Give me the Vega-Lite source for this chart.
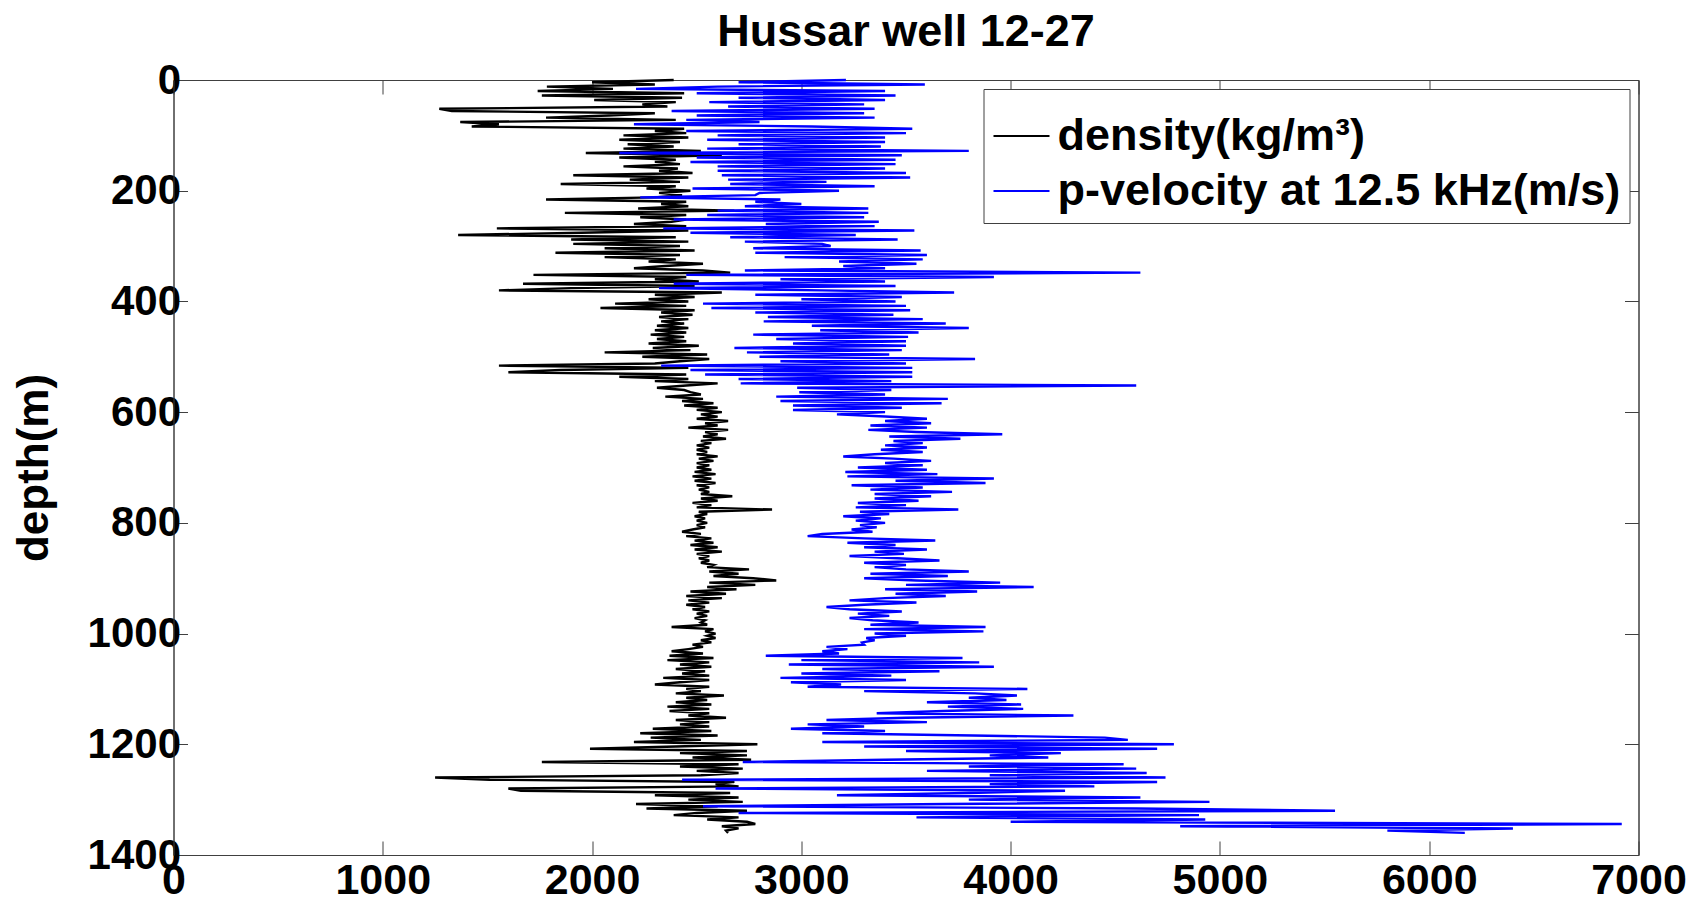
{
"$schema": "https://vega.github.io/schema/vega-lite/v6.json",
"width": 1465, "height": 775,
"autosize": {"type": "none"},
"padding": {"left": 173.5, "top": 80, "right": 60.5, "bottom": 52},
"background": "white",
"config": {"view": {"stroke": "#404040", "strokeWidth": 1}, "font": "Liberation Sans"},
"title": {"text": "Hussar well 12-27", "fontSize": 45, "fontWeight": "bold", "font": "Liberation Sans", "color": "black", "anchor": "middle", "frame": "group", "baseline": "alphabetic", "offset": -32},
"data": {"values": [
{"z":0,"r":2390,"v":3213},{"z":4,"r":2000,"v":2700},{"z":8,"r":2300,"v":3590},{"z":12,"r":1784,"v":2600},{"z":16,"r":2100,"v":2210},{"z":20,"r":1740,"v":3400},{"z":24,"r":2440,"v":2500},{"z":28,"r":1760,"v":3450},{"z":32,"r":2430,"v":2700},{"z":36,"r":2010,"v":3400},{"z":40,"r":2400,"v":2560},{"z":44,"r":2240,"v":3300},{"z":48,"r":2360,"v":2650},{"z":52,"r":1270,"v":3350},{"z":56,"r":1330,"v":2380},{"z":60,"r":2300,"v":3300},{"z":64,"r":2080,"v":2500},{"z":68,"r":1780,"v":3350},{"z":72,"r":2400,"v":2450},{"z":76,"r":1370,"v":2800},{"z":80,"r":1555,"v":2200},{"z":84,"r":1425,"v":3050},{"z":88,"r":2440,"v":3530},{"z":92,"r":2300,"v":2450},{"z":96,"r":2450,"v":3500},
{"z":100,"r":2150,"v":2600},{"z":104,"r":2460,"v":3400},{"z":108,"r":2130,"v":2550},{"z":112,"r":2420,"v":3400},{"z":116,"r":2170,"v":2700},{"z":120,"r":2390,"v":3380},{"z":124,"r":2150,"v":2550},{"z":128,"r":2520,"v":3800},{"z":132,"r":1970,"v":2130},{"z":136,"r":2620,"v":3480},{"z":140,"r":2130,"v":2500},{"z":144,"r":2400,"v":3450},{"z":148,"r":2300,"v":2470},{"z":152,"r":2420,"v":3450},{"z":156,"r":2150,"v":2600},{"z":160,"r":2410,"v":3400},{"z":164,"r":2320,"v":2600},{"z":168,"r":2480,"v":3500},{"z":172,"r":1910,"v":2620},{"z":176,"r":2460,"v":3520},{"z":180,"r":2180,"v":2650},{"z":184,"r":2420,"v":3120},{"z":188,"r":1850,"v":2660},{"z":192,"r":2400,"v":3350},{"z":196,"r":2260,"v":2480},
{"z":200,"r":2470,"v":3180},{"z":204,"r":2320,"v":2800},{"z":208,"r":2430,"v":2780},{"z":212,"r":2300,"v":2230},{"z":216,"r":1780,"v":2900},{"z":220,"r":2450,"v":2780},{"z":224,"r":2330,"v":3000},{"z":228,"r":2460,"v":2730},{"z":232,"r":2220,"v":3320},{"z":236,"r":2680,"v":2600},{"z":240,"r":1870,"v":3320},{"z":244,"r":2450,"v":2550},{"z":248,"r":2230,"v":3300},{"z":252,"r":2450,"v":2390},{"z":256,"r":2380,"v":3370},{"z":260,"r":2200,"v":2830},{"z":264,"r":2450,"v":3350},{"z":268,"r":1545,"v":2340},{"z":272,"r":2460,"v":3540},{"z":276,"r":1950,"v":2470},{"z":280,"r":1360,"v":3260},{"z":284,"r":2400,"v":2660},{"z":288,"r":1900,"v":3460},{"z":292,"r":2460,"v":2730},{"z":296,"r":1910,"v":3100},
{"z":300,"r":2420,"v":3140},{"z":304,"r":2060,"v":2770},{"z":308,"r":2490,"v":3570},{"z":312,"r":1825,"v":2780},{"z":316,"r":2420,"v":3600},{"z":320,"r":2060,"v":2920},{"z":324,"r":2400,"v":3580},{"z":328,"r":2270,"v":3180},{"z":332,"r":2530,"v":3550},{"z":336,"r":2350,"v":3200},{"z":340,"r":2200,"v":3400},{"z":344,"r":2530,"v":2730},{"z":348,"r":2660,"v":4620},{"z":352,"r":1720,"v":2450},{"z":356,"r":2450,"v":3920},{"z":360,"r":2300,"v":2900},{"z":364,"r":2510,"v":3400},{"z":368,"r":1670,"v":2390},{"z":372,"r":2490,"v":3450},{"z":376,"r":1900,"v":2320},{"z":380,"r":1555,"v":3100},{"z":384,"r":2620,"v":3730},{"z":388,"r":2300,"v":2780},{"z":392,"r":2490,"v":3480},{"z":396,"r":2270,"v":3000},
{"z":400,"r":2460,"v":3450},{"z":404,"r":2110,"v":2530},{"z":408,"r":2450,"v":3500},{"z":412,"r":2040,"v":2570},{"z":416,"r":2490,"v":3520},{"z":420,"r":2330,"v":2780},{"z":424,"r":2480,"v":3440},{"z":428,"r":2320,"v":2840},{"z":432,"r":2460,"v":3580},{"z":436,"r":2330,"v":2820},{"z":440,"r":2440,"v":3690},{"z":444,"r":2310,"v":3050},{"z":448,"r":2460,"v":3800},{"z":452,"r":2300,"v":3090},{"z":456,"r":2450,"v":3560},{"z":460,"r":2280,"v":2770},{"z":464,"r":2440,"v":3510},{"z":468,"r":2310,"v":2880},{"z":472,"r":2450,"v":3500},{"z":476,"r":2270,"v":2960},{"z":480,"r":2510,"v":3500},{"z":484,"r":2290,"v":2680},{"z":488,"r":2470,"v":3480},{"z":492,"r":2060,"v":2740},{"z":496,"r":2550,"v":3420},
{"z":500,"r":2240,"v":2800},{"z":504,"r":2560,"v":3830},{"z":508,"r":2420,"v":2900},{"z":512,"r":2300,"v":3500},{"z":516,"r":1555,"v":2330},{"z":520,"r":2460,"v":3530},{"z":524,"r":1850,"v":2470},{"z":528,"r":1600,"v":3530},{"z":532,"r":2450,"v":2540},{"z":536,"r":2130,"v":3530},{"z":540,"r":2460,"v":2700},{"z":544,"r":2300,"v":3430},{"z":548,"r":2600,"v":2710},{"z":552,"r":2450,"v":4600},{"z":556,"r":2310,"v":2980},{"z":560,"r":2440,"v":3430},{"z":564,"r":2470,"v":2990},{"z":568,"r":2520,"v":3400},{"z":572,"r":2350,"v":2880},{"z":576,"r":2530,"v":3700},{"z":580,"r":2430,"v":2900},{"z":584,"r":2580,"v":3670},{"z":588,"r":2440,"v":2960},{"z":592,"r":2600,"v":3480},
{"z":596,"r":2500,"v":2960},{"z":600,"r":2620,"v":3400},{"z":604,"r":2520,"v":3170},{"z":608,"r":2600,"v":3400},{"z":612,"r":2500,"v":3600},{"z":616,"r":2650,"v":3400},{"z":620,"r":2540,"v":3620},{"z":624,"r":2600,"v":3330},{"z":628,"r":2460,"v":3600},{"z":632,"r":2650,"v":3320},{"z":636,"r":2540,"v":3550},{"z":640,"r":2600,"v":3960},{"z":644,"r":2530,"v":3420},{"z":648,"r":2640,"v":3760},{"z":652,"r":2520,"v":3440},{"z":656,"r":2570,"v":3580},{"z":660,"r":2500,"v":3400},{"z":664,"r":2560,"v":3600},{"z":668,"r":2500,"v":3380},{"z":672,"r":2550,"v":3580},{"z":676,"r":2500,"v":3350},{"z":680,"r":2600,"v":3200},{"z":684,"r":2510,"v":3440},{"z":688,"r":2580,"v":3620},{"z":692,"r":2500,"v":3400},{"z":696,"r":2560,"v":3580},
{"z":700,"r":2500,"v":3270},{"z":704,"r":2570,"v":3600},{"z":708,"r":2490,"v":3210},{"z":712,"r":2590,"v":3650},{"z":716,"r":2480,"v":3220},{"z":720,"r":2570,"v":3920},{"z":724,"r":2490,"v":3450},{"z":728,"r":2590,"v":3880},{"z":732,"r":2500,"v":3240},{"z":736,"r":2560,"v":3580},{"z":740,"r":2510,"v":3330},{"z":744,"r":2560,"v":3720},{"z":748,"r":2520,"v":3350},{"z":752,"r":2670,"v":3620},{"z":756,"r":2520,"v":3350},{"z":760,"r":2600,"v":3560},{"z":764,"r":2480,"v":3270},{"z":768,"r":2570,"v":3500},{"z":772,"r":2500,"v":3260},{"z":776,"r":2860,"v":3750},{"z":780,"r":2510,"v":3280},{"z":784,"r":2550,"v":3420},{"z":788,"r":2490,"v":3200},{"z":792,"r":2540,"v":3380},{"z":796,"r":2500,"v":3260},
{"z":800,"r":2550,"v":3400},{"z":804,"r":2500,"v":3280},{"z":808,"r":2540,"v":3360},{"z":812,"r":2480,"v":3240},{"z":816,"r":2430,"v":3340},{"z":820,"r":2520,"v":3100},{"z":824,"r":2450,"v":3030},{"z":828,"r":2570,"v":3300},{"z":832,"r":2490,"v":3640},{"z":836,"r":2580,"v":3220},{"z":840,"r":2470,"v":3450},{"z":844,"r":2600,"v":3300},{"z":848,"r":2490,"v":3600},{"z":852,"r":2620,"v":3350},{"z":856,"r":2500,"v":3490},{"z":860,"r":2560,"v":3230},{"z":864,"r":2510,"v":3460},{"z":868,"r":2560,"v":3660},{"z":872,"r":2520,"v":3300},{"z":876,"r":2580,"v":3500},{"z":880,"r":2550,"v":3350},{"z":884,"r":2750,"v":3500},{"z":888,"r":2560,"v":3800},{"z":892,"r":2700,"v":3330},{"z":896,"r":2580,"v":3700},
{"z":900,"r":2770,"v":3300},{"z":904,"r":2880,"v":3550},{"z":908,"r":2560,"v":3950},{"z":912,"r":2780,"v":3500},{"z":916,"r":2550,"v":4110},{"z":920,"r":2690,"v":3400},{"z":924,"r":2470,"v":3840},{"z":928,"r":2640,"v":3450},{"z":932,"r":2450,"v":3690},{"z":936,"r":2620,"v":3400},{"z":940,"r":2460,"v":3230},{"z":944,"r":2560,"v":3550},{"z":948,"r":2450,"v":3300},{"z":952,"r":2540,"v":3120},{"z":956,"r":2480,"v":3230},{"z":960,"r":2560,"v":3480},{"z":964,"r":2500,"v":3270},{"z":968,"r":2550,"v":3420},{"z":972,"r":2490,"v":3230},{"z":976,"r":2540,"v":3340},{"z":980,"r":2520,"v":3560},{"z":984,"r":2550,"v":3330},{"z":988,"r":2380,"v":3880},{"z":992,"r":2580,"v":3300},{"z":996,"r":2540,"v":3870},
{"z":1000,"r":2590,"v":3350},{"z":1004,"r":2550,"v":3500},{"z":1008,"r":2590,"v":3310},{"z":1012,"r":2520,"v":3350},{"z":1016,"r":2570,"v":3290},{"z":1020,"r":2480,"v":3300},{"z":1024,"r":2530,"v":3120},{"z":1028,"r":2460,"v":3220},{"z":1032,"r":2380,"v":3100},{"z":1036,"r":2530,"v":3180},{"z":1040,"r":2370,"v":2830},{"z":1044,"r":2580,"v":3770},{"z":1048,"r":2360,"v":3000},{"z":1052,"r":2560,"v":3850},{"z":1056,"r":2420,"v":2940},{"z":1060,"r":2570,"v":3920},{"z":1064,"r":2400,"v":3100},{"z":1068,"r":2540,"v":3660},{"z":1072,"r":2430,"v":3000},{"z":1076,"r":2560,"v":3430},{"z":1080,"r":2340,"v":2900},{"z":1084,"r":2560,"v":3500},{"z":1088,"r":2420,"v":2950},{"z":1092,"r":2300,"v":3190},{"z":1096,"r":2560,"v":3030},
{"z":1100,"r":2450,"v":4080},{"z":1104,"r":2520,"v":3300},{"z":1108,"r":2400,"v":3830},{"z":1112,"r":2630,"v":4030},{"z":1116,"r":2450,"v":3800},{"z":1120,"r":2550,"v":3980},{"z":1124,"r":2400,"v":3600},{"z":1128,"r":2570,"v":4050},{"z":1132,"r":2360,"v":3700},{"z":1136,"r":2560,"v":4060},{"z":1140,"r":2370,"v":3680},{"z":1144,"r":2560,"v":3360},{"z":1148,"r":2460,"v":4300},{"z":1152,"r":2640,"v":3500},{"z":1156,"r":2400,"v":3120},{"z":1160,"r":2560,"v":3600},{"z":1164,"r":2420,"v":3030},{"z":1168,"r":2560,"v":3300},{"z":1172,"r":2290,"v":2950},{"z":1176,"r":2570,"v":3400},{"z":1180,"r":2230,"v":3100},{"z":1184,"r":2600,"v":3820},{"z":1188,"r":2280,"v":4450},
{"z":1192,"r":2520,"v":4560},{"z":1196,"r":2200,"v":3100},{"z":1200,"r":2790,"v":4780},{"z":1204,"r":2400,"v":3300},{"z":1208,"r":1990,"v":4700},{"z":1212,"r":2740,"v":3500},{"z":1216,"r":2420,"v":4240},{"z":1220,"r":2740,"v":3900},{"z":1224,"r":2480,"v":4180},{"z":1228,"r":2760,"v":3400},{"z":1232,"r":1760,"v":2720},{"z":1236,"r":2700,"v":4540},{"z":1240,"r":2420,"v":3800},{"z":1244,"r":2720,"v":4600},{"z":1248,"r":2500,"v":3600},{"z":1252,"r":2700,"v":4650},{"z":1256,"r":2520,"v":3900},{"z":1260,"r":1250,"v":4740},{"z":1264,"r":1510,"v":2430},{"z":1268,"r":2680,"v":4700},{"z":1272,"r":2590,"v":3900},{"z":1276,"r":2700,"v":4400},{"z":1280,"r":1600,"v":2590},{"z":1284,"r":1660,"v":4260},{"z":1288,"r":2660,"v":3800},{"z":1292,"r":2300,"v":3170},{"z":1296,"r":2700,"v":4620},
{"z":1300,"r":2460,"v":3800},{"z":1304,"r":2720,"v":4950},{"z":1308,"r":2210,"v":3700},{"z":1312,"r":2600,"v":2530},{"z":1316,"r":2260,"v":4600},{"z":1320,"r":2740,"v":5550},{"z":1324,"r":2500,"v":2700},{"z":1328,"r":2390,"v":4900},{"z":1332,"r":2700,"v":3550},{"z":1336,"r":2550,"v":4930},{"z":1340,"r":2740,"v":4000},{"z":1344,"r":2780,"v":6920},{"z":1348,"r":2620,"v":4810},{"z":1352,"r":2700,"v":6400},{"z":1356,"r":2640,"v":5800},{"z":1360,"r":2650,"v":6170}
]},
"layer": [
{
"mark": {"type": "line", "strokeWidth": 2.4},
"encoding": {
"x": {"field": "r", "type": "quantitative", "scale": {"domain": [0, 7000], "nice": false, "zero": false},
"axis": {"orient": "bottom", "title": null, "values": [0,1000,2000,3000,4000,5000,6000,7000], "format": "d", "grid": false, "domainColor": "#404040", "tickColor": "#404040", "tickSize": -14, "labelFontSize": 43, "labelFont": "Liberation Sans", "labelFontWeight": "bold", "labelColor": "black", "labelPadding": 18, "labelFlush": false, "labelOverlap": false}},
"y": {"field": "z", "type": "quantitative", "scale": {"domain": [0, 1400], "reverse": true, "nice": false, "zero": false},
"axis": {"orient": "left", "title": "depth(m)", "values": [0,200,400,600,800,1000,1200,1400], "format": "d", "grid": false, "domainColor": "#404040", "tickColor": "#404040", "tickSize": -14, "labelFontSize": 42, "labelFont": "Liberation Sans", "labelFontWeight": "bold", "labelColor": "black", "labelPadding": 7, "labelFlush": false, "labelOverlap": false, "titleFontSize": 44, "titleFont": "Liberation Sans", "titleFontWeight": "bold", "titleColor": "black", "titleAngle": -90, "titleX": -126, "titleY": 387.5, "titleAlign": "center", "titleBaseline": "alphabetic"}},
"order": {"field": "z", "type": "quantitative"},
"color": {"datum": "density(kg/m³)", "type": "nominal",
"scale": {"domain": ["density(kg/m³)", "p-velocity at 12.5 kHz(m/s)"], "range": ["#000000", "#0000ff"]},
"legend": {"orient": "none", "legendX": 810, "legendY": 9, "title": " ", "titleFontSize": 9, "titlePadding": 0, "symbolType": "stroke", "symbolSize": 3136, "symbolStrokeWidth": 2, "labelFontSize": 45, "labelFont": "Liberation Sans", "labelFontWeight": "bold", "labelColor": "black", "labelOffset": 7, "labelLimit": 1000, "strokeColor": "#404040", "fillColor": "white", "padding": 9, "rowPadding": 3, "direction": "vertical"}}
}
},
{
"mark": {"type": "line", "strokeWidth": 2.4},
"encoding": {
"x": {"field": "v", "type": "quantitative", "scale": {"domain": [0, 7000], "nice": false, "zero": false},
"axis": {"orient": "top", "title": null, "values": [0,1000,2000,3000,4000,5000,6000,7000], "grid": false, "labels": false, "domainColor": "#404040", "tickColor": "#404040", "tickSize": -14}},
"y": {"field": "z", "type": "quantitative", "scale": {"domain": [0, 1400], "reverse": true, "nice": false, "zero": false},
"axis": {"orient": "right", "title": null, "values": [0,200,400,600,800,1000,1200,1400], "grid": false, "labels": false, "domainColor": "#404040", "tickColor": "#404040", "tickSize": -14}},
"order": {"field": "z", "type": "quantitative"},
"color": {"datum": "p-velocity at 12.5 kHz(m/s)", "type": "nominal"}
}
}
],
"resolve": {"axis": {"x": "independent", "y": "independent"}}
}
